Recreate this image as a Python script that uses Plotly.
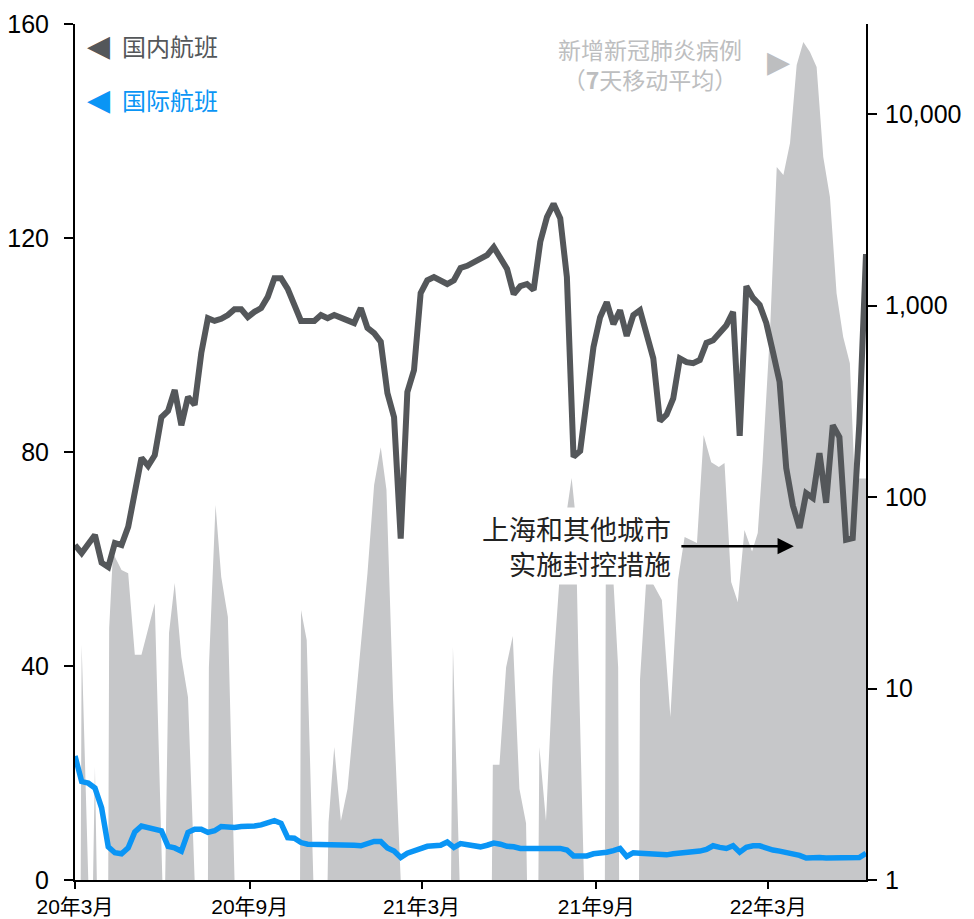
import pandas as pd
import plotly.graph_objects as go

# ---------------- data ----------------
week_start = "2020-03-01"
n_weeks = 120

domestic_flights = [
    62.6, 61.1, 62.8, 64.5, 59.3, 58.5, 63.0, 62.6, 66.0, 72.9,
    78.9, 77.4, 79.4, 86.5, 87.7, 91.6, 85.0, 90.3, 88.8, 98.5,
    105.0, 104.5, 104.9, 105.6, 106.7, 106.7, 105.2, 106.2, 106.9, 109.0,
    112.5, 112.5, 110.5, 107.5, 104.5, 104.5, 104.5, 105.6, 105.0, 105.6,
    105.2, 104.6, 104.1, 106.9, 103.2, 102.2, 100.6, 91.0, 86.5, 63.8,
    91.2, 95.3, 109.7, 112.1, 112.7, 112.1, 111.4, 112.1, 114.4, 114.8,
    115.5, 116.4, 116.8, 118.3, 116.3, 114.2, 109.5, 111.0, 111.4, 110.3,
    119.3, 123.9, 126.4, 123.7, 112.7, 79.1, 80.2, 89.0, 99.6, 105.2,
    108.0, 103.9, 106.5, 101.7, 105.6, 106.5, 102.0, 97.5, 85.8, 87.0,
    90.0, 97.5, 96.8, 96.6, 97.2, 100.4, 100.9, 102.2, 103.7, 106.2,
    83.0, 111.0, 108.8, 107.5, 104.1, 98.7, 93.1, 77.0, 70.0, 65.8,
    72.3, 71.4, 79.8, 70.5, 85.0, 82.8, 63.6, 63.9, 85.4, 117.0,
]

international_flights = [
    23.2, 18.4, 18.1, 17.2, 13.5, 6.2, 5.1, 4.9, 6.0, 9.0,
    10.1, 9.8, 9.3, 9.2, 6.3, 6.0, 5.4, 8.9, 9.5, 9.5,
    8.9, 9.2, 10.0, 9.85, 9.8, 10.0, 10.0, 10.1, 10.3, 10.6,
    11.1, 10.6, 7.9, 7.8, 7.0, 6.7, 6.7, 6.5, 6.5, 6.5,
    6.7, 6.7, 6.5, 6.4, 6.9, 7.2, 7.2, 6.0, 5.4, 4.2,
    5.0, 5.5, 5.9, 6.3, 6.4, 6.5, 7.1, 6.1, 6.8, 6.6,
    6.3, 6.2, 6.5, 6.9, 6.7, 6.3, 6.2, 5.9, 5.9, 5.9,
    5.9, 6.0, 6.0, 5.9, 5.6, 4.5, 4.5, 4.5, 4.9, 5.0,
    5.2, 5.5, 5.9, 4.4, 5.1, 5.0, 4.9, 4.7, 4.6, 4.7,
    4.9, 5.0, 5.1, 5.2, 5.4, 5.7, 6.4, 6.1, 5.9, 6.4,
    5.2, 6.1, 6.4, 6.4, 5.9, 5.6, 5.4, 5.1, 5.0, 4.6,
    4.1, 4.2, 4.2, 4.1, 4.1, 4.1, 4.05, 4.05, 4.2, 5.0,
]

case_dates = [
    "2020-03-01", "2020-03-07", "2020-03-08", "2020-03-15", "2020-03-20", "2020-03-22",
    "2020-03-24", "2020-04-05", "2020-04-06", "2020-04-10", "2020-04-19", "2020-04-26",
    "2020-05-03", "2020-05-10", "2020-05-24", "2020-06-01", "2020-06-04", "2020-06-08",
    "2020-06-14", "2020-06-21", "2020-06-28", "2020-07-05", "2020-07-19", "2020-07-20",
    "2020-07-27", "2020-08-02", "2020-08-09", "2020-08-16", "2020-10-24", "2020-10-25",
    "2020-10-31", "2020-11-07", "2020-11-22", "2020-11-23", "2020-11-29", "2020-12-06",
    "2020-12-13", "2020-12-20", "2020-12-27", "2021-01-03", "2021-01-10", "2021-01-17",
    "2021-01-23", "2021-01-30", "2021-02-07", "2021-04-01", "2021-04-03", "2021-04-10",
    "2021-05-14", "2021-05-15", "2021-05-22", "2021-05-29", "2021-06-05", "2021-06-12",
    "2021-06-19", "2021-06-20", "2021-07-02", "2021-07-03", "2021-07-10", "2021-07-17",
    "2021-07-24", "2021-07-31", "2021-08-06", "2021-08-10", "2021-08-13", "2021-08-19",
    "2021-09-10", "2021-09-11", "2021-09-18", "2021-09-24", "2021-09-25", "2021-10-16",
    "2021-10-17", "2021-10-24", "2021-10-31", "2021-11-09", "2021-11-18", "2021-11-26",
    "2021-12-03", "2021-12-16", "2021-12-23", "2021-12-31", "2022-01-08", "2022-01-14",
    "2022-01-21", "2022-01-28", "2022-02-04", "2022-02-12", "2022-02-18", "2022-02-23",
    "2022-03-03", "2022-03-10", "2022-03-17", "2022-03-24", "2022-03-31", "2022-04-07",
    "2022-04-14", "2022-04-21", "2022-04-28", "2022-05-05", "2022-05-12", "2022-05-19",
    "2022-05-26", "2022-05-31", "2022-06-12",
]
case_values = [
    0, 0, 16.9, 0, 0, 3.9,
    0, 0, 20.7, 51, 41.6, 40,
    15, 15, 27.9, 0, 0, 19.5,
    35.6, 14.6, 9.0, 0, 0, 12.9,
    90.8, 38.2, 23.6, 0, 0, 25.7,
    17.9, 0, 0, 2.0, 4.95, 2.03,
    3.0, 7.1, 15.9, 40, 115.5, 182,
    109, 8.7, 0, 0, 16.5, 0,
    0, 4.0, 4.0, 12.9, 18.8, 3.0,
    1.98, 0, 0, 4.95, 2.03, 11.5,
    36, 78.6, 125.6, 80.5, 15.9, 0,
    0, 45, 45, 12.9, 0, 0,
    11.1, 40, 35, 29, 7.1, 36.9,
    61.8, 57.5, 211, 152, 143.5, 150.5,
    36, 28.3, 67.2, 52, 64.9, 150,
    745, 5290, 4800, 7060, 18000, 23800,
    21100, 17600, 5960, 3690, 1160, 685,
    500, 125, 125,
]

x_tick_dates = ["2020-03-01", "2020-09-01", "2021-03-01", "2021-09-01", "2022-03-01"]
x_tick_labels = ["20年3月", "20年9月", "21年3月", "21年9月", "22年3月"]
left_ticks = [0, 40, 80, 120, 160]
right_ticks = [1, 10, 100, 1000, 10000]
right_tick_labels = ["1", "10", "100", "1,000", "10,000"]

legend_domestic = "国内航班"
legend_international = "国际航班"
legend_cases = "新增新冠肺炎病例<br>（<b>7</b>天移动平均）"
note_text = "上海和其他城市<br>实施封控措施"
note_date = "2022-03-28"
note_value = 62.4
note_tail_date = "2021-11-28"

# ---------------- styling ----------------
C_DOM = "#54575A"
C_INT = "#0A95F5"
C_AREA = "#C6C7C9"
C_LEG_AREA = "#BDBEC0"
CJK = "Noto Sans CJK SC"
YTICKFONT = dict(family="Liberation Sans, Arial, Noto Sans CJK SC", size=25, color="black")
XTICKFONT = dict(family="Liberation Sans, Arial, Noto Sans CJK SC", size=21, color="black")

weeks = pd.date_range(week_start, periods=n_weeks, freq="7D")
case_plot = [v if v > 0 else 1 for v in case_values]

fig = go.Figure()
fig.add_trace(go.Scatter(
    x=pd.to_datetime(case_dates), y=case_plot, mode="lines", fill="tozeroy",
    line=dict(width=0, color=C_AREA), fillcolor=C_AREA, yaxis="y", hoverinfo="skip",
))
fig.add_trace(go.Scatter(
    x=weeks, y=domestic_flights, mode="lines", yaxis="y2",
    line=dict(color=C_DOM, width=6),
))
fig.add_trace(go.Scatter(
    x=weeks, y=international_flights, mode="lines", yaxis="y2",
    line=dict(color=C_INT, width=5.5),
))

axis_common = dict(
    showgrid=False, zeroline=False, automargin=False,
    showline=True, linecolor="black", linewidth=2,
    ticks="outside", tickwidth=2, tickcolor="black",
)

fig.update_layout(
    width=974, height=919,
    margin=dict(l=75, r=108, t=24, b=39, autoexpand=False),
    paper_bgcolor="white", plot_bgcolor="white",
    showlegend=False,
    xaxis=dict(
        type="date", range=["2020-03-01", "2022-06-12"],
        tickvals=x_tick_dates, ticktext=x_tick_labels, ticklen=7,
        tickfont=XTICKFONT, ticklabelstandoff=0, **axis_common,
    ),
    yaxis=dict(
        type="log", range=[0, 4.47], side="right",
        tickvals=right_ticks, ticktext=right_tick_labels, ticklen=9,
        tickfont=YTICKFONT, ticklabelstandoff=3, **axis_common,
    ),
    yaxis2=dict(
        range=[0, 160], side="left", overlaying="y",
        tickvals=left_ticks, ticklen=9,
        tickfont=YTICKFONT, ticklabelstandoff=10, **axis_common,
    ),
)

def px2paper_x(px):
    return (px - 75) / 791.0

def px2paper_y(py):
    return (880 - py) / 856.0

# legend: domestic
fig.add_annotation(xref="paper", yref="paper", x=px2paper_x(98), y=px2paper_y(45),
                   text="◀", showarrow=False, font=dict(family="DejaVu Sans", size=30, color=C_DOM),
                   xanchor="center", yanchor="middle")
fig.add_annotation(xref="paper", yref="paper", x=px2paper_x(120), y=px2paper_y(45),
                   text=legend_domestic, showarrow=False, font=dict(family=CJK, size=24, color=C_DOM),
                   xanchor="left", yanchor="middle")
# legend: international
fig.add_annotation(xref="paper", yref="paper", x=px2paper_x(98), y=px2paper_y(99),
                   text="◀", showarrow=False, font=dict(family="DejaVu Sans", size=30, color=C_INT),
                   xanchor="center", yanchor="middle")
fig.add_annotation(xref="paper", yref="paper", x=px2paper_x(120), y=px2paper_y(99),
                   text=legend_international, showarrow=False, font=dict(family=CJK, size=24, color=C_INT),
                   xanchor="left", yanchor="middle")
# legend: cases
fig.add_annotation(xref="paper", yref="paper", x=px2paper_x(650), y=px2paper_y(64),
                   text=legend_cases, showarrow=False, align="center",
                   font=dict(family=CJK, size=23, color=C_LEG_AREA),
                   xanchor="center", yanchor="middle")
fig.add_annotation(xref="paper", yref="paper", x=px2paper_x(778), y=px2paper_y(61),
                   text="▶", showarrow=False, font=dict(family="DejaVu Sans", size=30, color=C_LEG_AREA),
                   xanchor="center", yanchor="middle")
# note with arrow
fig.add_annotation(xref="x", yref="y2", x=note_date, y=note_value,
                   axref="x", ayref="y2", ax=note_tail_date, ay=note_value,
                   text="", showarrow=True, arrowhead=2, arrowsize=1.3, arrowwidth=2.5,
                   arrowcolor="black")
fig.add_annotation(xref="paper", yref="paper", x=px2paper_x(673), y=px2paper_y(546),
                   text=note_text, showarrow=False, align="right",
                   font=dict(family=CJK, size=27, color="#222222"),
                   bgcolor="white", borderpad=1,
                   xanchor="right", yanchor="middle")

fig.write_html("out.html", config={"displayModeBar": False},
               post_script="document.body.style.margin='0px';document.body.style.overflow='hidden';")
